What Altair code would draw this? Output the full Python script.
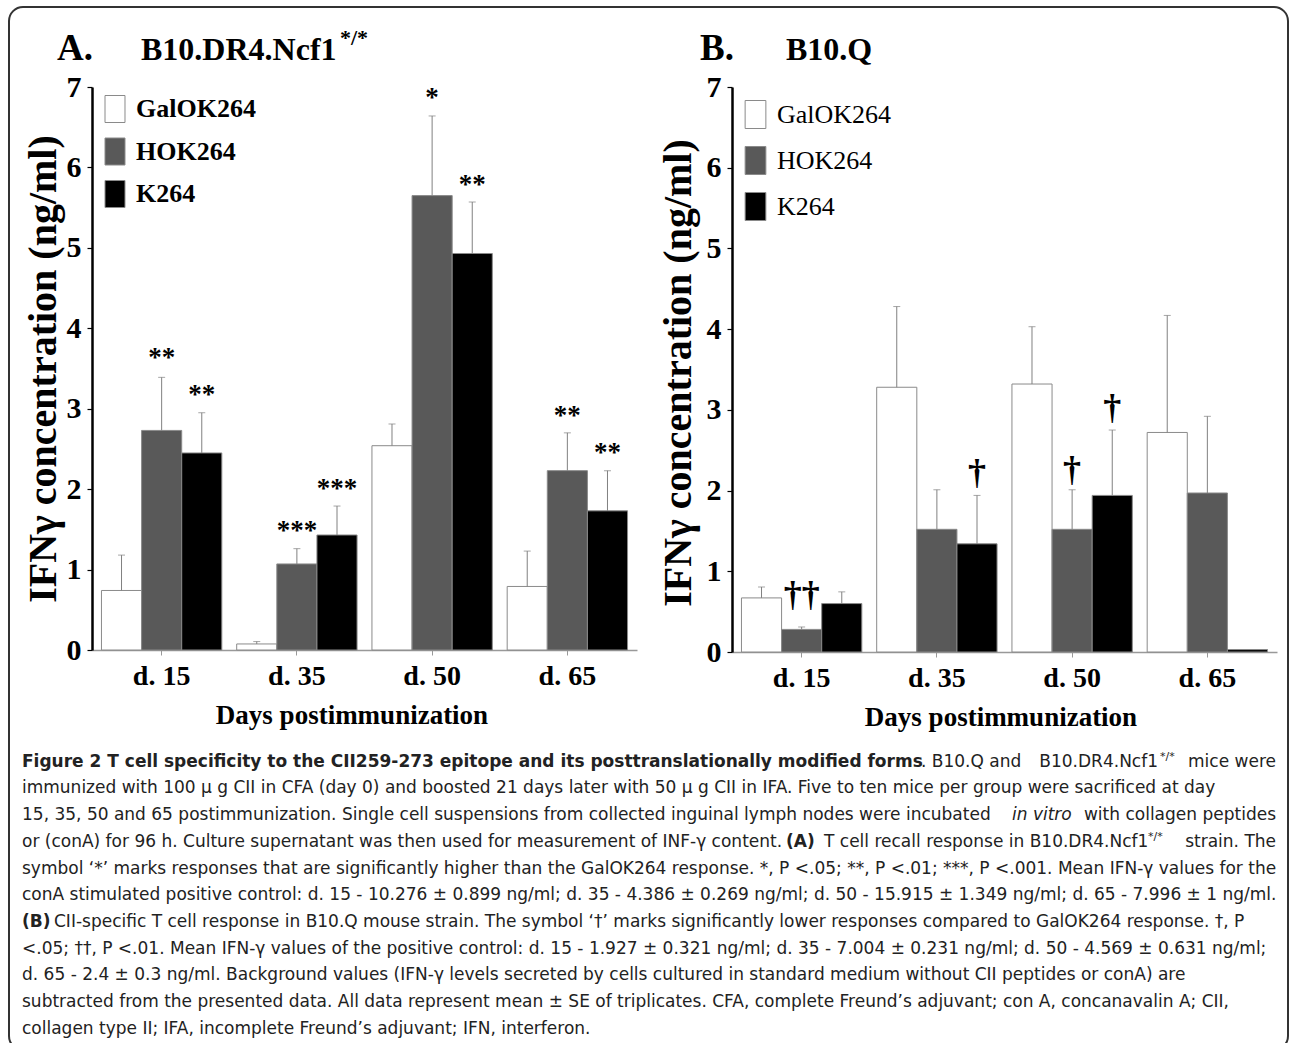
import altair as alt
import pandas as pd

SERIF = "Liberation Serif"
SANS = "DejaVu Sans"

days = ["d. 15", "d. 35", "d. 50", "d. 65"]
series = ["GalOK264", "HOK264", "K264"]
series_colors = ["#ffffff", "#595959", "#000000"]

# Panel A: B10.DR4.Ncf1*/*  (mean and SE, in day order)
a_galok264_mean = [0.74, 0.075, 2.54, 0.79]
a_galok264_se = [0.44, 0.03, 0.27, 0.44]
a_hok264_mean = [2.73, 1.07, 5.65, 2.23]
a_hok264_se = [0.66, 0.19, 0.99, 0.47]
a_k264_mean = [2.45, 1.43, 4.93, 1.73]
a_k264_se = [0.50, 0.36, 0.64, 0.50]

# Panel B: B10.Q
b_galok264_mean = [0.67, 3.28, 3.32, 2.72]
b_galok264_se = [0.135, 1.00, 0.71, 1.45]
b_hok264_mean = [0.28, 1.52, 1.52, 1.97]
b_hok264_se = [0.03, 0.49, 0.49, 0.95]
b_k264_mean = [0.60, 1.34, 1.94, 0.03]
b_k264_se = [0.145, 0.60, 0.81, 0.0]

# significance marks
a_sig_day = ["d. 15", "d. 15", "d. 35", "d. 35", "d. 50", "d. 50", "d. 65", "d. 65"]
a_sig_series = ["HOK264", "K264", "HOK264", "K264", "HOK264", "K264", "HOK264", "K264"]
a_sig_text = ["**", "**", "***", "***", "*", "**", "**", "**"]
a_sig_level = [3.70, 3.24, 1.56, 2.08, 6.94, 5.85, 2.99, 2.53]

b_sig_day = ["d. 15", "d. 35", "d. 50", "d. 50"]
b_sig_series = ["HOK264", "K264", "HOK264", "K264"]
b_sig_text = ["\u2020\u2020", "\u2020", "\u2020", "\u2020"]
b_sig_level = [0.72, 2.23, 2.27, 3.03]

y_title = "IFN\u03b3 concentration (ng/ml)"
x_title = "Days postimmunization"

# page origin of panel A's plot area (everything drawn in panel A is relative to it)
OX, OY = 92, 87


def build_df(means, ses):
    rows = []
    for s, m, e in zip(series, means, ses):
        for d, mv, ev in zip(days, m, e):
            rows.append({"day": d, "series": s, "mean": mv, "top": mv + ev, "se": ev})
    return pd.DataFrame(rows)


RECT = "M-0.74,-1H0.74V1H-0.74Z"


def panel_layers(df, sig_df, y_vals, leg, sig_size, sig_dy):
    xscale = alt.Scale(domain=days, paddingInner=0.11, paddingOuter=0.07)
    oscale = alt.Scale(domain=series, paddingInner=0, paddingOuter=0)
    yscale = alt.Scale(domain=[0, 7], nice=False, zero=False)
    xaxis = alt.Axis(orient="bottom", domainColor="#999999", domainWidth=1.5,
                     tickColor="#999999", tickSize=5, labelFont=SERIF, labelFontWeight="bold",
                     labelFontSize=28, labelColor="#000", labelPadding=7, labelAngle=0)
    yaxis = alt.Axis(orient="left", values=y_vals, grid=False, format="d",
                     labelExpr="datum.value % 1 == 0 ? format(datum.value, 'd') : ''",
                     domainColor="#000", domainWidth=2.5, tickColor="#000", tickSize=5,
                     tickWidth=1.2, labelFont=SERIF, labelFontWeight="bold",
                     labelFontSize=30, labelColor="#000", labelPadding=6)
    X = alt.X("day:N", sort=days, scale=xscale, title=None, axis=xaxis)
    XO = alt.XOffset("series:N", sort=series, scale=oscale)

    def Y(field):
        return alt.Y(field, scale=yscale, title=None, axis=yaxis)

    bars = alt.Chart(df).mark_bar(stroke="#8a8a8a", strokeWidth=1).encode(
        x=X, xOffset=XO, y=Y("mean:Q"),
        color=alt.Color("series:N", sort=series,
                        scale=alt.Scale(domain=series, range=series_colors),
                        legend=alt.Legend(**leg)))
    err = alt.Chart(df).transform_filter("datum.se > 0").mark_rule(color="#808080", strokeWidth=1).encode(
        x=X, xOffset=XO, y=Y("top:Q"), y2="mean:Q")
    cap = alt.Chart(df).transform_filter("datum.se > 0").mark_tick(color="#808080", thickness=1, size=7).encode(
        x=X, xOffset=XO, y=Y("top:Q"))
    sig = alt.Chart(sig_df).mark_text(font=SERIF, fontWeight="bold", fontSize=sig_size,
                                      baseline="alphabetic", dy=sig_dy, color="#000").encode(
        x=X, xOffset=XO, y=Y("level:Q"), text="label:N")
    return [bars, err, cap, sig]


dfA = build_df([a_galok264_mean, a_hok264_mean, a_k264_mean], [a_galok264_se, a_hok264_se, a_k264_se])
dfB = build_df([b_galok264_mean, b_hok264_mean, b_k264_mean], [b_galok264_se, b_hok264_se, b_k264_se])
sigA = pd.DataFrame({"day": a_sig_day, "series": a_sig_series, "label": a_sig_text, "level": a_sig_level})
sigB = pd.DataFrame({"day": b_sig_day, "series": b_sig_series, "label": b_sig_text, "level": b_sig_level})

legA = dict(title=None, orient="none", legendX=101 - 92, legendY=95 - 87, symbolType=RECT, symbolSize=729,
            symbolStrokeColor="#8a8a8a", symbolStrokeWidth=1, labelFont=SERIF, labelFontWeight="bold",
            labelFontSize=26, labelColor="#000", labelOffset=7, rowPadding=10.5, padding=0)
legB = dict(title=None, orient="none", legendX=741 - 732, legendY=100 - 87, symbolType=RECT, symbolSize=784,
            symbolStrokeColor="#8a8a8a", symbolStrokeWidth=1, labelFont=SERIF, labelFontWeight="normal",
            labelFontSize=26, labelColor="#000", labelOffset=7, rowPadding=13, padding=0)

half_ticks = [i * 0.5 for i in range(15)]
int_ticks = list(range(8))


def txt(s, x, y, size, weight="normal", style="normal", font=SANS, align="left", angle=0,
        baseline="alphabetic", color="#222222"):
    # x, y are page pixel positions; converted to panel A's frame
    return alt.Chart(pd.DataFrame({"t": [s]})).mark_text(
        align=align, baseline=baseline, font=font, fontSize=size, fontWeight=weight,
        fontStyle=style, angle=angle, color=color).encode(
        x=alt.value(x - OX), y=alt.value(y - OY), text="t:N")


page = alt.Chart(pd.DataFrame({"t": [0]})).mark_rect(fill="#ffffff", fillOpacity=0, strokeWidth=0).encode(
    x=alt.value(0 - OX), x2=alt.value(1290 - OX), y=alt.value(0 - OY), y2=alt.value(1043 - OY))

border = alt.Chart(pd.DataFrame({"t": [0]})).mark_rect(
    fillOpacity=0, stroke="#333333", strokeWidth=2, cornerRadius=14).encode(
    x=alt.value(9 - OX), x2=alt.value(1288 - OX), y=alt.value(7 - OY), y2=alt.value(1050 - OY))

titles = [
    txt("A.", 57, 60, 37, "bold", font=SERIF, color="#000"),
    txt("B10.DR4.Ncf1", 141, 60, 32, "bold", font=SERIF, color="#000"),
    txt("*/*", 340, 45, 22, "bold", font=SERIF, color="#000"),
    txt("B.", 700, 60, 37, "bold", font=SERIF, color="#000"),
    txt("B10.Q", 786, 60, 32, "bold", font=SERIF, color="#000"),
    txt(y_title, 44, 369, 40, "bold", font=SERIF, align="center", angle=270, baseline="middle", color="#000"),
    txt(y_title, 679, 373, 40, "bold", font=SERIF, align="center", angle=270, baseline="middle", color="#000"),
    txt(x_title, 352, 724, 27, "bold", font=SERIF, align="center", color="#000"),
    txt(x_title, 1001, 726, 27, "bold", font=SERIF, align="center", color="#000"),
]

FS = 17
L = 22
R = 1276
yl = [766.7 + i * 26.7 for i in range(11)]

caption = [
    txt("Figure 2 T cell specificity to the CII259-273 epitope and its posttranslationally modified forms",
        L, yl[0], FS, "bold"),
    txt(". B10.Q and", 921, yl[0], FS),
    txt("B10.DR4.Ncf1", 1158, yl[0], FS, align="right"),
    txt("*/*", 1160, yl[0] - 7, 11),
    txt("mice were", R, yl[0], FS, align="right"),
    txt("immunized with 100 \u03bc g CII in CFA (day 0) and boosted 21 days later with 50 \u03bc g CII in IFA. "
        "Five to ten mice per group were sacrificed at day", L, yl[1], FS),
    txt("15, 35, 50 and 65 postimmunization. Single cell suspensions from collected inguinal lymph nodes "
        "were incubated", L, yl[2], FS),
    txt("in vitro", 1012, yl[2], FS, style="italic"),
    txt("with collagen peptides", R, yl[2], FS, align="right"),
    txt("or (conA) for 96 h. Culture supernatant was then used for measurement of INF-\u03b3 content.",
        L, yl[3], FS),
    txt("(A)", 786, yl[3], FS, "bold"),
    txt("T cell recall response in B10.DR4.Ncf1", 824, yl[3], FS),
    txt("*/*", 1148, yl[3] - 7, 11),
    txt("strain. The", R, yl[3], FS, align="right"),
    txt("symbol \u2018*\u2019 marks responses that are significantly higher than the GalOK264 response. "
        "*, P <.05; **, P <.01; ***, P <.001. Mean IFN-\u03b3 values for the", L, yl[4], FS),
    txt("conA stimulated positive control: d. 15 - 10.276 \u00b1 0.899 ng/ml; d. 35 - 4.386 \u00b1 0.269 ng/ml; "
        "d. 50 - 15.915 \u00b1 1.349 ng/ml; d. 65 - 7.996 \u00b1 1 ng/ml.", L, yl[5], FS),
    txt("(B)", L, yl[6], FS, "bold"),
    txt("CII-specific T cell response in B10.Q mouse strain. The symbol \u2018\u2020\u2019 marks significantly "
        "lower responses compared to GalOK264 response. \u2020, P", 54, yl[6], FS),
    txt("<.05; \u2020\u2020, P <.01. Mean IFN-\u03b3 values of the positive control: d. 15 - 1.927 \u00b1 0.321 ng/ml; "
        "d. 35 - 7.004 \u00b1 0.231 ng/ml; d. 50 - 4.569 \u00b1 0.631 ng/ml;", L, yl[7], FS),
    txt("d. 65 - 2.4 \u00b1 0.3 ng/ml. Background values (IFN-\u03b3 levels secreted by cells cultured in standard "
        "medium without CII peptides or conA) are", L, yl[8], FS),
    txt("subtracted from the presented data. All data represent mean \u00b1 SE of triplicates. CFA, complete "
        "Freund\u2019s adjuvant; con A, concanavalin A; CII,", L, yl[9], FS),
    txt("collagen type II; IFA, incomplete Freund\u2019s adjuvant; IFN, interferon.", L, yl[10], FS),
]

panelA = alt.layer(page, border, *panel_layers(dfA, sigA, int_ticks, legA, 27, 14),
                   *titles, *caption).properties(width=545, height=563)
panelB = alt.layer(*panel_layers(dfB, sigB, half_ticks, legB, 36, 12)).properties(
    width=545, height=565)

chart = alt.hconcat(panelA, panelB, spacing=95, bounds="flush").resolve_scale(
    color="independent", x="independent", y="independent"
).properties(padding=0, background="white").configure_view(stroke=None)

chart.save("out.html", embed_options={"renderer": "svg", "actions": False})
